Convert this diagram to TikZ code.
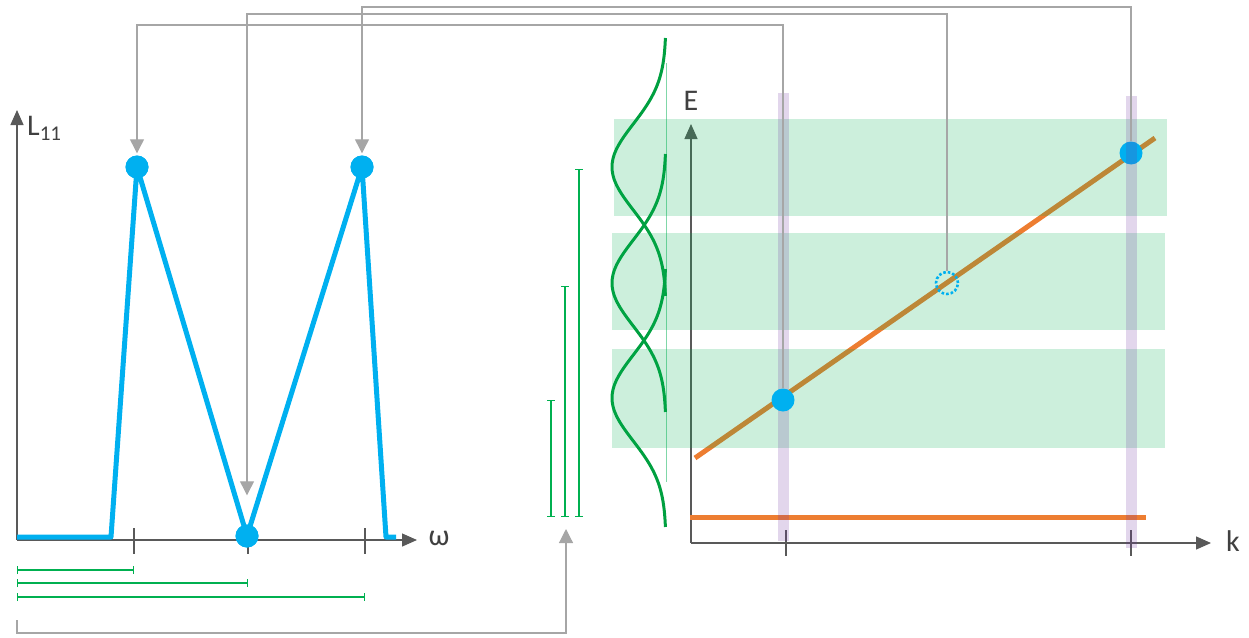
\documentclass[tikz,border=0pt]{standalone}
\usepackage{fontspec}
\setmainfont{Carlito}
\usetikzlibrary{arrows.meta}
\definecolor{dotblue}{HTML}{00B0F0}
\definecolor{lineorange}{HTML}{ED7D31}
\definecolor{spangreen}{HTML}{00B050}
\definecolor{gaussgreen}{HTML}{00A040}
\definecolor{barpurple}{HTML}{7030A0}
\definecolor{axisgray}{HTML}{595959}
\definecolor{linkgray}{HTML}{A6A6A6}
\definecolor{textgray}{HTML}{404040}
\begin{document}
\begin{tikzpicture}[x=1pt, y=-1pt,
  dot/.style={circle, fill=dotblue, inner sep=0pt, minimum size=23pt},
  axis/.style={draw=axisgray, line width=1.3pt, -{Triangle[width=13pt,length=15pt]}},
  link/.style={draw=linkgray, line width=1.2pt, -{Triangle[width=14pt,length=14pt]}},
  span/.style={draw=spangreen, line width=1.1pt, {Bar[width=8pt]}-{Bar[width=8pt]}},
  band/.style={fill=spangreen, fill opacity=0.2},
  kbar/.style={fill=barpurple, fill opacity=0.2},
  gauss/.style={draw=gaussgreen, line width=3pt},
  lbl/.style={text=textgray, font=\fontsize{30}{36}\selectfont, inner sep=0pt}]
\useasboundingbox (0,0) rectangle (1249,637);

% left plot
\coordinate (o1) at (17,540);
\draw[axis] (o1) -- (17,110);
\draw[axis] (o1) -- (417,540);
\node[lbl, anchor=west] (ylab) at (27,128) {L\textsubscript{11}};
\node[lbl] (wlab) at (439,538) {ω};
\foreach \x in {134,248,365} \draw[axisgray, line width=1.2pt] (\x,528) -- (\x,554);

\node[dot] (w1) at (137,167) {};
\node[dot] (w2) at (247,536) {};
\node[dot] (w3) at (362,167) {};
\draw[dotblue, line width=5pt, line join=round] (17,537) -- (111,537) -- (w1.center) -- (w2.center) -- (w3.center) -- (386,537) -- (396,537);
\node[dot] at (w1) {};
\node[dot] at (w2) {};
\node[dot] at (w3) {};

\foreach \x/\y in {134/570, 248/583, 365/597} \draw[span] (17,\y) -- (\x,\y);
\foreach \x/\y in {551/400, 565/286, 579/169} \draw[span] (\x,517) -- (\x,\y);

% gaussians
\draw[spangreen!50, line width=1pt] (666,63) -- (666,482);
\foreach \c in {167,283,398}
  \draw[gauss] plot[domain=-3:3, samples=61, smooth] ({666-54*exp(-\x*\x/2)}, {\c+43*\x});

% right plot
\coordinate (o2) at (691,543);
\draw[axis] (o2) -- (691,124);
\draw[axis] (o2) -- (1211,543);
\node[lbl] (elab) at (691,101) {E};
\node[lbl] (klab) at (1233,541) {k};
\foreach \x in {786,1131} \draw[axisgray, line width=1.2pt] (\x,530) -- (\x,556);

\draw[lineorange, line width=5pt] (695,458) -- (1155,138);
\draw[lineorange, line width=5pt] (690,517) -- (1146,517);
\fill[band] (614,119) rectangle (1167,216);
\fill[band] (612,233) rectangle (1165,330);
\fill[band] (612,349) rectangle (1165,448);

\node[dot] (k2) at (1131,153) {};
\fill[kbar] (778,93) rectangle (789,541);
\fill[kbar] (1126,96) rectangle (1137,548);
\node[dot] (k1) at (783,400) {};
\node[circle, draw=dotblue, dotted, line width=2.6pt, inner sep=0pt, minimum size=22pt] (kq) at (947,283) {};

% links
\draw[link, shorten >=2pt] (k1.north) -- (k1.north |- 0,25) -| (w1.north);
\draw[link, shorten >=29pt] (kq.north) -- (kq.north |- 0,14) -| (w2.north);
\draw[link, shorten >=2pt] (k2.north) -- (k2.north |- 0,7) -| (w3.north);
\coordinate (s0) at (17,620);
\coordinate (s1) at (566,529);
\draw[link] (s0) -- (s0 |- 0,633) -| (s1);
\end{tikzpicture}
\end{document}
